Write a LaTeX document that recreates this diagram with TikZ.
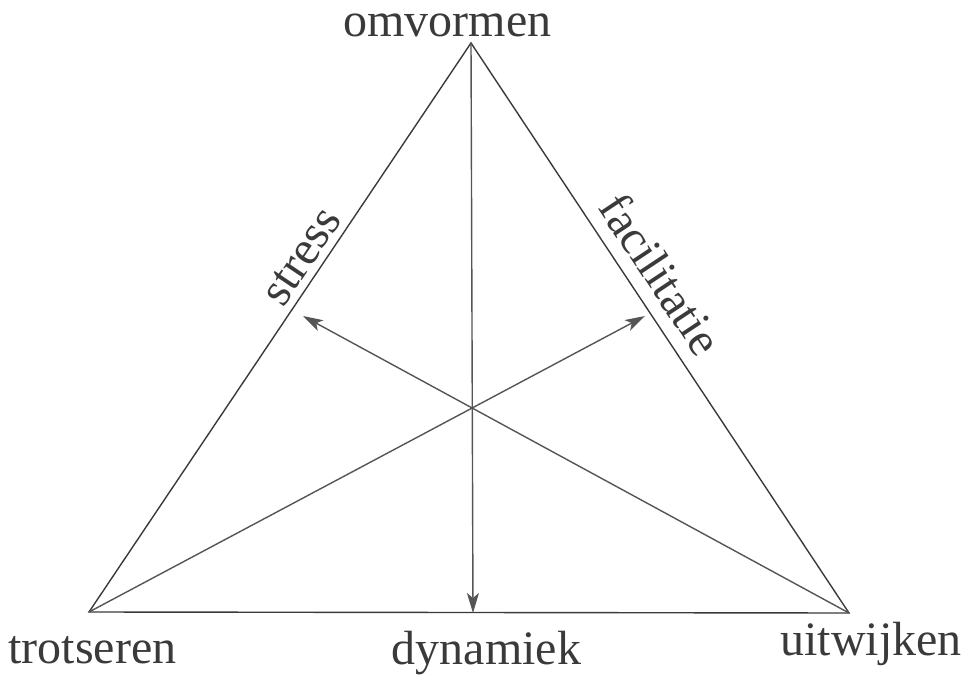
\documentclass[tikz,border=0pt]{standalone}
\usepackage{fontspec}
\setmainfont{Liberation Serif}
\usetikzlibrary{arrows.meta}
\definecolor{edgecol}{HTML}{3A3A3A}
\definecolor{arrcol}{HTML}{555555}
\begin{document}
\begin{tikzpicture}[x=1pt,y=1pt,
  edge/.style={draw=edgecol,line width=1.4pt},
  arr/.style={draw=arrcol,line width=1.4pt,-{Stealth[length=20pt,width=12pt,inset=5pt]}},
  lbl/.style={font=\fontsize{48}{58}\selectfont,text=edgecol,inner sep=0pt}]
\useasboundingbox (0,0) rectangle (974,681);
\coordinate (T) at (471,638);
\coordinate (BL) at (89,69);
\coordinate (BR) at (849,68);
\coordinate (D) at (473,68);
\coordinate (P) at (303,365);
\coordinate (Q) at (645,365);
\draw[edge] (T) -- (BL) -- (BR) -- cycle;
\draw[arr] (T) -- (D);
\draw[arr] (BL) -- (Q);
\draw[arr] (BR) -- (P);
\path (BL) -- (T) node[lbl,pos=0.604,sloped,anchor=base,yshift=8pt] (stress) {stress};
\path (T) -- (BR) node[lbl,pos=0.435,sloped,anchor=base,yshift=14pt] (facil) {facilitatie};
\node[lbl,anchor=base] (omv) at (447.5,644) {omvormen};
\node[lbl,anchor=base] (trot) at (92.5,18) {trotseren};
\node[lbl,anchor=base] (dyn) at (486.5,17) {dynamiek};
\node[lbl,anchor=base] (uit) at (871,26) {uitwijken};
\end{tikzpicture}
\end{document}
